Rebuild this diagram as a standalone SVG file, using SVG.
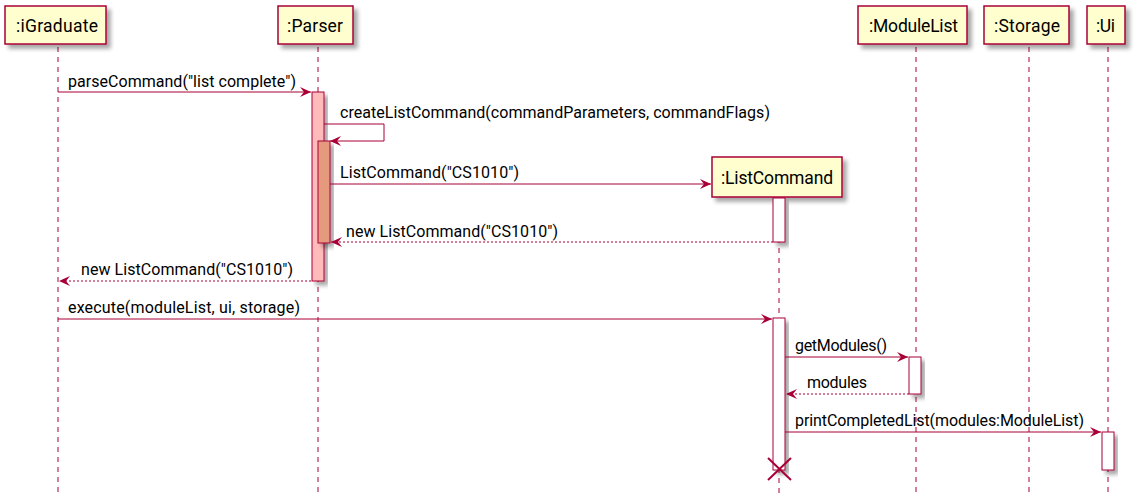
<svg xmlns="http://www.w3.org/2000/svg" width="1140" height="500" viewBox="0 0 1140 500">
  <defs>
    <filter id="shadow" x="-20%" y="-20%" width="150%" height="150%">
      <feGaussianBlur in="SourceAlpha" stdDeviation="2"/>
      <feOffset dx="4" dy="4" result="blur"/>
      <feComponentTransfer><feFuncA type="linear" slope="0.35"/></feComponentTransfer>
      <feMerge><feMergeNode/><feMergeNode in="SourceGraphic"/></feMerge>
    </filter>
    <marker id="arrow" viewBox="0 0 11 10" refX="11" refY="5" markerWidth="11" markerHeight="10" markerUnits="userSpaceOnUse" orient="auto">
      <path d="M0,0 L11,5 L0,10 L4,5 Z" fill="#A80036"/>
    </marker>
  </defs>
  <style>
    .life { stroke: #A80036; stroke-width: 1; stroke-dasharray: 5,5; fill: none; }
    .box { fill: #FEFECE; stroke: #A80036; stroke-width: 1.5; filter: url(#shadow); }
    .act { fill: #FFFFFF; stroke: #A80036; stroke-width: 1; filter: url(#shadow); }
    .msg { stroke: #A80036; stroke-width: 1; fill: none; marker-end: url(#arrow); }
    .ret { stroke: #A80036; stroke-width: 1; fill: none; stroke-dasharray: 2,2; marker-end: url(#arrow); }
    .name { font-family: Roboto, "Liberation Sans", sans-serif; font-size: 17.5px; fill: #000000; }
    .label { font-family: Roboto, "Liberation Sans", sans-serif; font-size: 16px; fill: #000000; }
  </style>
  <rect width="1140" height="500" fill="#FFFFFF"/>

  <!-- lifelines -->
  <g id="lifelines">
    <line class="life" x1="58" y1="47" x2="58" y2="495"/>
    <line class="life" x1="318" y1="47" x2="318" y2="495"/>
    <line class="life" x1="779" y1="198" x2="779" y2="495"/>
    <line class="life" x1="916" y1="47" x2="916" y2="495"/>
    <line class="life" x1="1029" y1="47" x2="1029" y2="495"/>
    <line class="life" x1="1108" y1="47" x2="1108" y2="495"/>
  </g>

  <!-- participants -->
  <g id="iGraduate">
    <rect class="box" x="5" y="6" width="101" height="38"/>
    <text class="name" x="16" y="32" textLength="82">:iGraduate</text>
  </g>
  <g id="Parser">
    <rect class="box" x="278" y="6" width="75" height="38"/>
    <text class="name" x="287" y="32" textLength="56">:Parser</text>
    <rect x="312" y="92" width="12" height="189" fill="#FFBBBB" stroke="#A80036" stroke-width="1" filter="url(#shadow)"/>
    <rect x="318" y="141" width="12" height="102" fill="#E59A7E" stroke="#A80036" stroke-width="1" filter="url(#shadow)"/>
  </g>
  <g id="ListCommand">
    <rect class="box" x="712" y="157" width="130" height="40"/>
    <text class="name" x="721" y="184" textLength="112">:ListCommand</text>
    <rect class="act" x="773" y="198" width="12" height="44"/>
    <rect class="act" x="773" y="318" width="12" height="152"/>
    <line x1="768" y1="458" x2="791" y2="480" stroke="#A80036" stroke-width="2"/>
    <line x1="791" y1="458" x2="768" y2="480" stroke="#A80036" stroke-width="2"/>
  </g>
  <g id="ModuleList">
    <rect class="box" x="858" y="6" width="109" height="38"/>
    <text class="name" x="869" y="32" textLength="89">:ModuleList</text>
    <rect class="act" x="909" y="357" width="12" height="37"/>
  </g>
  <g id="Storage">
    <rect class="box" x="984" y="6" width="85" height="38"/>
    <text class="name" x="994" y="32" textLength="66">:Storage</text>
  </g>
  <g id="Ui">
    <rect class="box" x="1087" y="6" width="38" height="38"/>
    <text class="name" x="1096" y="32" textLength="19">:Ui</text>
    <rect class="act" x="1102" y="432" width="12" height="38"/>
  </g>

  <!-- messages -->
  <g id="connectors">
    <line class="msg" x1="58" y1="92" x2="311" y2="92"/>
    <polyline class="msg" points="324,124 384,124 384,141 330,141"/>
    <line class="msg" x1="330" y1="184" x2="711" y2="184"/>
    <line class="ret" x1="773" y1="242" x2="331" y2="242"/>
    <line class="ret" x1="311" y1="281" x2="59" y2="281"/>
    <line class="msg" x1="58" y1="319" x2="772" y2="319"/>
    <line class="msg" x1="785" y1="357" x2="908" y2="357"/>
    <line class="ret" x1="909" y1="394" x2="786" y2="394"/>
    <line class="msg" x1="785" y1="432" x2="1101" y2="432"/>
  </g>

  <!-- message labels -->
  <g id="labels">
    <text class="label" x="68" y="87" textLength="228">parseCommand("list complete")</text>
    <text class="label" x="340" y="118" textLength="430">createListCommand(commandParameters, commandFlags)</text>
    <text class="label" x="340" y="178" textLength="179">ListCommand("CS1010")</text>
    <text class="label" x="346" y="237" textLength="212">new ListCommand("CS1010")</text>
    <text class="label" x="81" y="275" textLength="212">new ListCommand("CS1010")</text>
    <text class="label" x="68" y="313" textLength="232">execute(moduleList, ui, storage)</text>
    <text class="label" x="795" y="351" textLength="92">getModules()</text>
    <text class="label" x="807" y="388" textLength="60">modules</text>
    <text class="label" x="795" y="426" textLength="289">printCompletedList(modules:ModuleList)</text>
  </g>
</svg>
